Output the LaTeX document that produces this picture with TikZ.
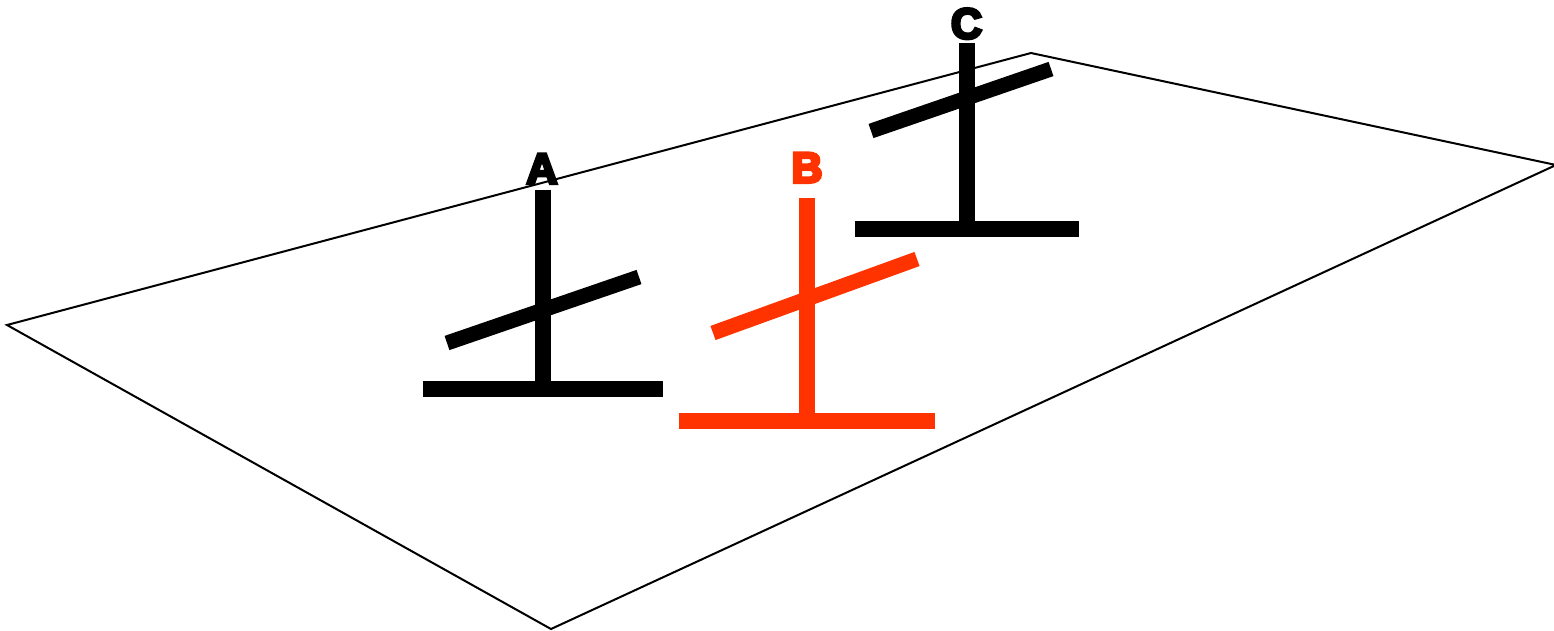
\documentclass[tikz,border=0pt]{standalone}
\usepackage{fontspec}
\setmainfont{Liberation Sans}[FakeBold=7]
\definecolor{redB}{RGB}{255,51,0}
\tikzset{
  x=1pt,y=-1pt,
  heavy/.style={line width=16pt,line cap=butt},
  tilted/.style={line width=15pt,line cap=butt},
  lab/.style={inner sep=0pt,font=\fontsize{43}{43}\selectfont\bfseries},
}
\begin{document}
\begin{tikzpicture}
\useasboundingbox (0,0) rectangle (1554,630);
\coordinate (p1) at (7,325);
\coordinate (p2) at (1031,53);
\coordinate (p3) at (1556,165);
\coordinate (p4) at (551,629);
% A
\coordinate (at) at (543,190); \coordinate (ab) at (543,389);
\coordinate (al) at (423,389); \coordinate (ar) at (663,389);
\coordinate (ts) at (447,343); \coordinate (te) at (639,277);
\draw[heavy] (at) -- (ab);
\draw[heavy] (al) -- (ar);
\draw[tilted] (ts) -- (te);
\node[lab,anchor=base] (A) at (542,183.5) {A};
% B
\coordinate (bt) at (807,198); \coordinate (bb) at (807,421);
\coordinate (bl) at (679,421); \coordinate (br) at (935,421);
\coordinate (us) at (713,333); \coordinate (ue) at (917,259);
\draw[heavy,redB] (bt) -- (bb);
\draw[heavy,redB] (bl) -- (br);
\draw[tilted,redB] (us) -- (ue);
\node[lab,anchor=base,text=redB] (B) at (807,182.5) {B};
% C
\coordinate (ct) at (967,43); \coordinate (cb) at (967,229);
\coordinate (cl) at (855,229); \coordinate (cr) at (1079,229);
\coordinate (vs) at (871,131); \coordinate (ve) at (1051,69);
\draw[heavy] (ct) -- (cb);
\draw[heavy] (cl) -- (cr);
\draw[tilted] (vs) -- (ve);
\node[lab,anchor=base] (C) at (966.5,38.5) {C};
\draw[line width=2pt,line join=miter] (p1) -- (p2) -- (p3) -- (p4) -- cycle;
\end{tikzpicture}
\end{document}
